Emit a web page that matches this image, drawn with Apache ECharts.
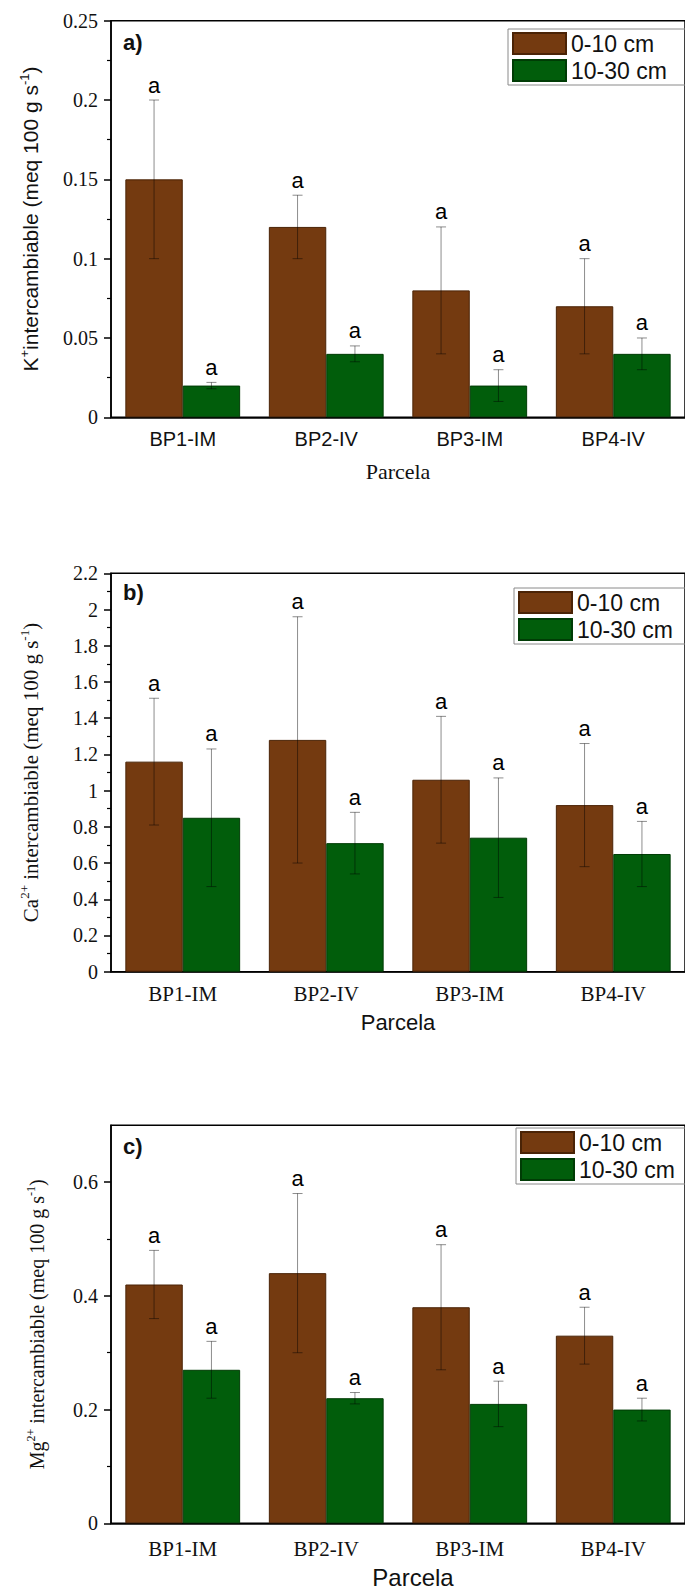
<!DOCTYPE html>
<html><head><meta charset="utf-8">
<script src="https://cdn.jsdelivr.net/npm/echarts@6/dist/echarts.min.js"></script>
<style>html,body{margin:0;padding:0;background:#fff}#c{width:685px;height:1591px}</style>
</head><body><div id="c"></div>
<script>
// ---------- data ----------
const categories = ['BP1-IM', 'BP2-IV', 'BP3-IM', 'BP4-IV'];
const depthNames = ['0-10 cm', '10-30 cm'];
const sigLetters = ['a', 'a', 'a', 'a'];

// Panel a) K+
const kTop = [0.15, 0.12, 0.08, 0.07];
const kTopLow = [0.10, 0.10, 0.04, 0.04];
const kTopHigh = [0.20, 0.14, 0.12, 0.10];
const kSub = [0.02, 0.04, 0.02, 0.04];
const kSubLow = [0.018, 0.035, 0.01, 0.03];
const kSubHigh = [0.022, 0.045, 0.03, 0.05];
const kTicks = [0, 0.05, 0.1, 0.15, 0.2, 0.25];
const kMinor = [0.025, 0.075, 0.125, 0.175, 0.225];

// Panel b) Ca2+
const caTop = [1.16, 1.28, 1.06, 0.92];
const caTopLow = [0.81, 0.60, 0.71, 0.58];
const caTopHigh = [1.51, 1.96, 1.41, 1.26];
const caSub = [0.85, 0.71, 0.74, 0.65];
const caSubLow = [0.47, 0.54, 0.41, 0.47];
const caSubHigh = [1.23, 0.88, 1.07, 0.83];
const caTicks = [0, 0.2, 0.4, 0.6, 0.8, 1, 1.2, 1.4, 1.6, 1.8, 2, 2.2];
const caMinor = [0.1, 0.3, 0.5, 0.7, 0.9, 1.1, 1.3, 1.5, 1.7, 1.9, 2.1];

// Panel c) Mg2+
const mgTop = [0.42, 0.44, 0.38, 0.33];
const mgTopLow = [0.36, 0.30, 0.27, 0.28];
const mgTopHigh = [0.48, 0.58, 0.49, 0.38];
const mgSub = [0.27, 0.22, 0.21, 0.20];
const mgSubLow = [0.22, 0.21, 0.17, 0.18];
const mgSubHigh = [0.32, 0.23, 0.25, 0.22];
const mgTicks = [0, 0.2, 0.4, 0.6];
const mgMinor = [0.1, 0.3, 0.5];

// ---------- style ----------
const SANS = '"Liberation Sans", Arial, sans-serif';
const SERIF = '"Liberation Serif", "Times New Roman", serif';
const BROWN = '#743a10';
const GREEN = '#015d0b';
const BROWN_EDGE = '#4a2306';
const GREEN_EDGE = '#003c05';

const panels = [
  {
    letter: 'a)', top: 20.7, height: 396.6, max: 0.25, ticks: kTicks, minor: kMinor,
    series: [[kTop, kTopLow, kTopHigh], [kSub, kSubLow, kSubHigh]],
    yName: '{n|K}{s|+}{n|intercambiable (meq 100 g s}{s|-1}{n|)}', yFont: SANS, yFontSize: 21, yGap: 68,
    xFont: SANS, xLabelSize: 20, xNameFont: SERIF, xNameSize: 22, xNameGap: 43, xNamePad: [0, 0, 0, 0], xLabelMargin: 12,
    legendLeft: 508, legendTop: 29, letterY: 43
  },
  {
    letter: 'b)', top: 573.3, height: 398.4, max: 2.2, ticks: caTicks, minor: caMinor,
    series: [[caTop, caTopLow, caTopHigh], [caSub, caSubLow, caSubHigh]],
    yName: '{n|Ca}{s|2+}{n| intercambiable (meq 100 g s}{s|-1}{n|)}', yFont: SERIF, yFontSize: 21, yGap: 68,
    xFont: SERIF, xLabelSize: 21, xNameFont: SANS, xNameSize: 22, xNameGap: 40, xNamePad: [0, 0, 0, 0], xLabelMargin: 12,
    legendLeft: 514, legendTop: 588, letterY: 593
  },
  {
    letter: 'c)', top: 1125.3, height: 398, max: 0.7, ticks: mgTicks, minor: mgMinor,
    series: [[mgTop, mgTopLow, mgTopHigh], [mgSub, mgSubLow, mgSubHigh]],
    yName: '{n|Mg}{s|2+}{n| intercambiable (meq 100 g s}{s|-1}{n|)}', yFont: SERIF, yFontSize: 20, yGap: 62,
    xFont: SERIF, xLabelSize: 21, xNameFont: SANS, xNameSize: 24, xNameGap: 42, xNamePad: [0, 0, 0, 30], xLabelMargin: 15,
    legendLeft: 516, legendTop: 1128, letterY: 1147
  }
];

const grid = [], xAxis = [], yAxis = [], series = [], legend = [], graphic = [];

function errRender(side) {
  return function (params, api) {
    const ci = api.value(0), lo = api.value(1), hi = api.value(2);
    const bw = api.size([1, 0])[0];
    const pLo = api.coord([ci, lo]);
    const pHi = api.coord([ci, hi]);
    const x = pHi[0] + side * bw * 0.2;
    const cap = 5;
    const st = { stroke: 'rgba(0,0,0,0.45)', lineWidth: 1 };
    return {
      type: 'group',
      children: [
        { type: 'line', shape: { x1: x, y1: pLo[1], x2: x, y2: pHi[1] }, style: st },
        { type: 'line', shape: { x1: x - cap, y1: pLo[1], x2: x + cap, y2: pLo[1] }, style: st },
        { type: 'line', shape: { x1: x - cap, y1: pHi[1], x2: x + cap, y2: pHi[1] }, style: st },
        { type: 'text', x: x, y: pHi[1] - 15,
          style: { text: sigLetters[ci], font: '22px ' + SANS, fill: '#000', align: 'center', verticalAlign: 'middle' } }
      ]
    };
  };
}

panels.forEach((p, gi) => {
  grid.push({ left: 111, right: -4.5, top: p.top, height: p.height, show: true,
    borderColor: '#000', borderWidth: 1.5, backgroundColor: 'transparent' });
  const xMain = xAxis.length;
  xAxis.push({
    type: 'category', gridIndex: gi, data: categories, position: 'bottom',
    axisLine: { lineStyle: { color: '#000', width: 1.5 } },
    axisTick: { alignWithLabel: true, length: 7, lineStyle: { color: '#000', width: 1.5 } },
    axisLabel: { color: '#111', fontFamily: p.xFont, fontSize: p.xLabelSize, margin: p.xLabelMargin },
    name: 'Parcela', nameLocation: 'middle', nameGap: p.xNameGap,
    nameTextStyle: { fontFamily: p.xNameFont, fontSize: p.xNameSize, color: '#111', padding: p.xNamePad }
  });
  xAxis.push({
    type: 'category', gridIndex: gi, data: categories, position: 'bottom',
    axisLine: { show: false }, axisLabel: { show: false },
    axisTick: { length: 4, lineStyle: { color: '#000', width: 1.2 } }
  });
  const yMain = yAxis.length;
  yAxis.push({
    type: 'value', gridIndex: gi, min: 0, max: p.max, position: 'left',
    splitLine: { show: false },
    axisLine: { show: true, lineStyle: { color: '#000', width: 1.5 } },
    axisTick: { show: true, length: 7, customValues: p.ticks, lineStyle: { color: '#000', width: 1.5 } },
    axisLabel: { customValues: p.ticks, fontFamily: SERIF, fontSize: 20, color: '#111', margin: 13,
      formatter: v => String(+v.toFixed(3)) },
    name: p.yName, nameLocation: 'middle', nameRotate: 90, nameGap: p.yGap,
    nameTextStyle: {
      rich: {
        n: { fontFamily: p.yFont, fontSize: p.yFontSize, color: '#111', lineHeight: p.yFontSize + 4 },
        s: { fontFamily: p.yFont, fontSize: Math.round(p.yFontSize * 0.62), color: '#111', verticalAlign: 'top', lineHeight: p.yFontSize + 4 }
      }
    }
  });
  yAxis.push({
    type: 'value', gridIndex: gi, min: 0, max: p.max, position: 'left',
    splitLine: { show: false }, axisLine: { show: false }, axisLabel: { show: false },
    axisTick: { show: true, length: 4, customValues: p.minor, lineStyle: { color: '#000', width: 1.2 } }
  });
  const colors = [BROWN, GREEN];
  const edges = [BROWN_EDGE, GREEN_EDGE];
  p.series.forEach((s, si) => {
    series.push({
      type: 'bar', name: depthNames[si], xAxisIndex: xMain, yAxisIndex: yMain,
      data: s[0], barGap: '0%', barCategoryGap: '20%',
      itemStyle: { color: colors[si], borderColor: edges[si], borderWidth: 1 },
      emphasis: { disabled: true }, z: 2
    });
  });
  p.series.forEach((s, si) => {
    series.push({
      type: 'custom', xAxisIndex: xMain, yAxisIndex: yMain, z: 5,
      renderItem: errRender(si === 0 ? -1 : 1),
      encode: { x: 0, y: [1, 2] },
      data: categories.map((c, i) => [i, s[1][i], s[2][i]]),
      silent: true, clip: false
    });
  });
  legend.push({
    orient: 'vertical', left: p.legendLeft, top: p.legendTop, data: depthNames,
    itemWidth: 53, itemHeight: 21, itemGap: 4, padding: [3, 20, 3, 4],
    borderColor: '#8a8a8a', borderWidth: 1, icon: 'rect', selectedMode: false,
    textStyle: { fontFamily: SANS, fontSize: 23, color: '#111' }
  });
  graphic.push({
    type: 'text', left: 123, top: p.letterY - 12,
    style: { text: p.letter, font: 'bold 22px ' + SANS, fill: '#111' }
  });
});

const chart = echarts.init(document.getElementById('c'), null, { renderer: 'svg', width: 685, height: 1591 });
chart.setOption({
  animation: false,
  backgroundColor: '#fff',
  grid, xAxis, yAxis, series, legend, graphic
});
</script>
</body></html>
